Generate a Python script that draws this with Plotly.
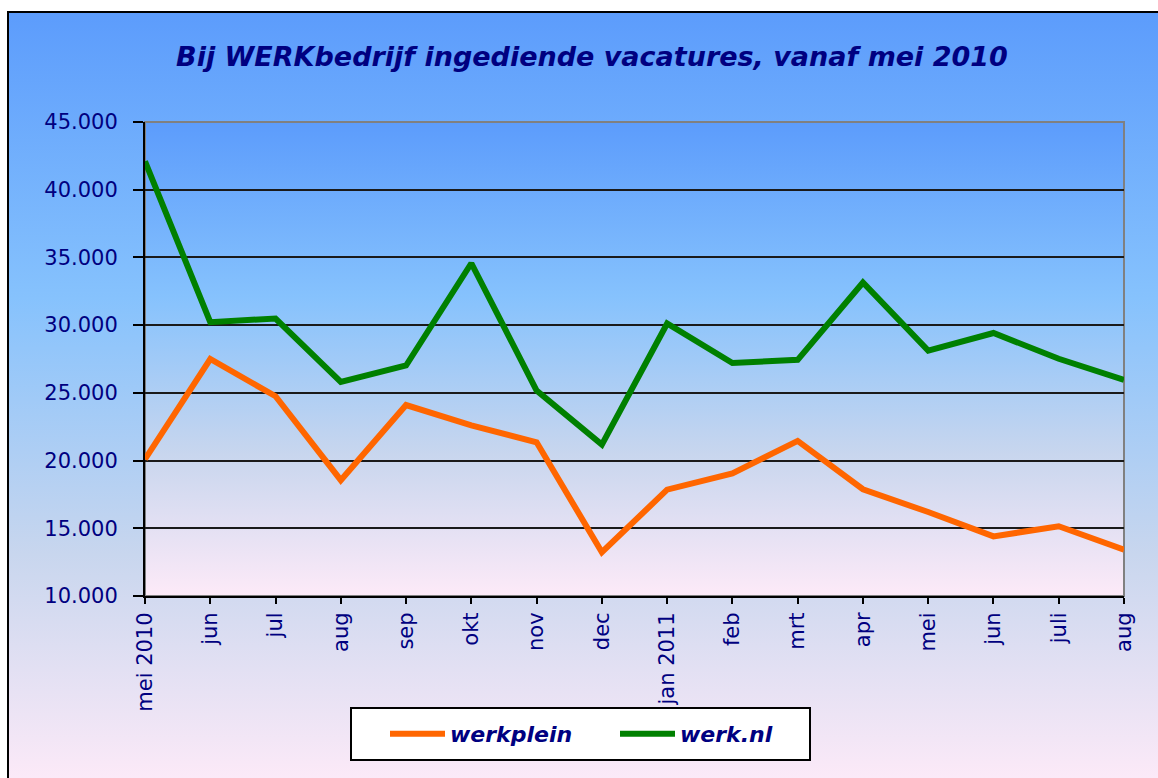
import base64
import plotly.graph_objects as go

# ---- data ----
months = ["mei 2010", "jun", "jul", "aug", "sep", "okt", "nov", "dec",
          "jan 2011", "feb", "mrt", "apr", "mei", "jun", "juli", "aug"]
werkplein = [20100, 27500, 24750, 18550, 24100, 22600, 21350, 13230,
             17850, 19050, 21450, 17880, 16200, 14400, 15150, 13420]
werk_nl = [42100, 30220, 30490, 25800, 27020, 34570, 25170, 21180,
           30120, 27200, 27440, 33150, 28120, 29420, 27520, 25960]
y_ticks = [10000, 15000, 20000, 25000, 30000, 35000, 40000, 45000]
title_text = "Bij WERKbedrijf ingediende vacatures, vanaf mei 2010"

xs = list(range(len(months)))

W, H = 1158, 778
L, R, T, B = 145, 1124, 122, 596
pw, ph = R - L, B - T


def px_x(p):
    return (p - L) / pw


def px_y(p):
    return (B - p) / ph


def grad_uri(stops):
    st = "".join(f'<stop offset="{o}" stop-color="{c}"/>' for o, c in stops)
    svg = ('<svg xmlns="http://www.w3.org/2000/svg" width="100" height="100" '
           'viewBox="0 0 100 100" preserveAspectRatio="none"><defs>'
           f'<linearGradient id="g" x1="0" y1="0" x2="0" y2="1">{st}</linearGradient>'
           '</defs><rect x="0" y="0" width="100" height="100" fill="url(#g)"/></svg>')
    return "data:image/svg+xml;base64," + base64.b64encode(svg.encode()).decode()


stops = [(0, "#5c9cfc"), (0.37, "#86c2fd"), (0.7, "#c8d6ee"), (1, "#fdeaf8")]
g = grad_uri(stops)

fig = go.Figure()
fig.add_trace(go.Scatter(x=xs, y=werkplein, mode="lines", name="werkplein",
                         line=dict(color="#ff6600", width=6)))
fig.add_trace(go.Scatter(x=xs, y=werk_nl, mode="lines", name="werk.nl",
                         line=dict(color="#008000", width=6)))

navy = "#000080"
fig.update_layout(
    width=W, height=H,
    margin=dict(l=L, r=W - R, t=T, b=H - B, autoexpand=False),
    paper_bgcolor="white",
    plot_bgcolor="rgba(0,0,0,0)",
    separators=",.",
    title=dict(text=title_text, xref="container", yref="container",
               x=592 / W, y=1 - 57 / H, xanchor="center", yanchor="middle",
               font=dict(family="DejaVu Sans", size=27, color=navy,
                         weight="bold", style="italic")),
    showlegend=True,
    legend=dict(orientation="h", x=px_x(385), y=px_y(734), xanchor="left", yanchor="middle",
                bgcolor="rgba(0,0,0,0)", borderwidth=0,
                font=dict(family="DejaVu Sans", size=22, color=navy,
                          weight="bold", style="italic"),
                itemwidth=55,
                entrywidth=160, entrywidthmode="pixels", tracegroupgap=0),
    images=[
        dict(source=g, xref="paper", yref="paper", x=px_x(8), y=px_y(12),
             sizex=(1165 - 8) / pw, sizey=(785 - 12) / ph, xanchor="left", yanchor="top",
             sizing="stretch", layer="below"),
        dict(source=g, xref="paper", yref="paper", x=0, y=1, sizex=1, sizey=1,
             xanchor="left", yanchor="top", sizing="stretch", layer="below"),
    ],
    shapes=[
        # outer chart frame (only top and left edges are inside the picture)
        dict(type="line", xref="paper", yref="paper", x0=px_x(7), x1=px_x(1158),
             y0=px_y(12), y1=px_y(12), line=dict(color="black", width=2), layer="below"),
        dict(type="line", xref="paper", yref="paper", x0=px_x(8), x1=px_x(8),
             y0=px_y(11), y1=px_y(778), line=dict(color="black", width=2), layer="below"),
        # plot area border
        dict(type="rect", xref="paper", yref="paper", x0=0, x1=1, y0=0, y1=1,
             line=dict(color="#808080", width=2), layer="below"),
        dict(type="line", xref="paper", yref="paper", x0=0, x1=1, y0=1, y1=1,
             line=dict(color="#808080", width=2), layer="above"),
        # legend box
        dict(type="rect", xref="paper", yref="paper", x0=px_x(351), x1=px_x(810),
             y0=px_y(708), y1=px_y(760), fillcolor="white",
             line=dict(color="black", width=2), layer="above"),
    ],
)

fig.update_xaxes(range=[0, len(months) - 1], tickmode="array", tickvals=xs, ticktext=months,
                 tickangle=-90, ticks="outside", ticklen=6, tickwidth=2, tickcolor="black",
                 showline=True, linecolor="black", linewidth=2, showgrid=False, zeroline=False,
                 ticklabelstandoff=0,
                 tickfont=dict(family="DejaVu Sans", size=21, color=navy))
fig.update_yaxes(range=[y_ticks[0], y_ticks[-1]], tickmode="array", tickvals=y_ticks,
                 tickformat=",d", ticks="outside", ticklen=10, tickwidth=2, tickcolor="black",
                 showline=True, linecolor="black", linewidth=2, showgrid=True,
                 gridcolor="#1a1a1a", gridwidth=1.5, zeroline=False,
                 ticklabelstandoff=11,
                 tickfont=dict(family="DejaVu Sans", size=21, color=navy))

fig.write_html("out.html", config={"displayModeBar": False},
               post_script="document.body.style.margin='0';")
